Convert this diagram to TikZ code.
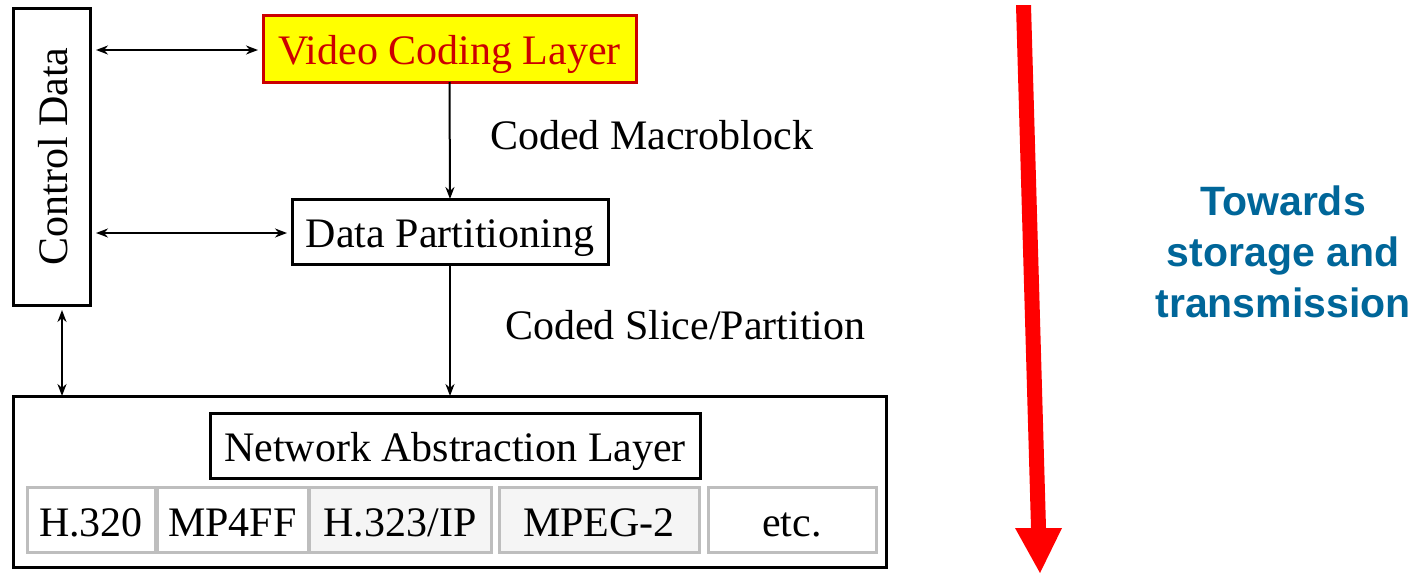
\documentclass[tikz,border=0pt]{standalone}
\usepackage{fontspec}
\setmainfont{Liberation Serif}
\newfontfamily\arialfont{Liberation Sans}
\usetikzlibrary{arrows.meta}
\definecolor{vclred}{RGB}{204,0,0}
\definecolor{vclyellow}{RGB}{255,255,0}
\definecolor{boxgray}{RGB}{190,190,190}
\definecolor{fillgray}{RGB}{245,245,245}
\definecolor{towardsblue}{RGB}{0,102,153}
\definecolor{bigred}{RGB}{255,0,0}
\begin{document}
\begin{tikzpicture}[x=1pt,y=-1pt,
  every node/.style={inner sep=0pt, outer sep=0pt},
  txt/.style={font=\fontsize{42}{50}\selectfont},
  boxtxt/.style={txt, text height=32pt, text depth=0pt},
  blackbox/.style={draw=black, line width=3pt, fill=white, boxtxt},
  graybox/.style={draw=boxgray, line width=3pt, fill=white, boxtxt, minimum height=65pt},
  conn/.style={line width=2pt, -{Stealth[length=12pt,width=9pt]}},
  biconn/.style={line width=2pt, {Stealth[length=12pt,width=9pt]}-{Stealth[length=12pt,width=9pt]}}
]
\useasboundingbox (0,0) rectangle (1427,573);

% Control Data
\node[blackbox, rotate=90, minimum width=297pt, minimum height=77pt] (ctrl) at (51.5,156.5) {Control Data};

% Video Coding Layer
\node[draw=vclred, fill=vclyellow, text=vclred, line width=3pt, boxtxt, minimum width=373pt, minimum height=67pt] (vcl) at (449.5,48.5) {Video Coding Layer};

% Data Partitioning
\node[blackbox, minimum width=316pt, minimum height=65pt] (dp) at (450,231.5) {Data Partitioning};

% NAL outer
\node[draw=black, line width=3pt, minimum width=873pt, minimum height=171pt] (nal) at (449.5,481.5) {};
\node[blackbox, minimum width=490pt, minimum height=65pt] (nalin) at (455,445.5) {Network Abstraction Layer};

% bottom row
\node[graybox, minimum width=128pt] (h320) at (91,520) {H.320};
\node[graybox, minimum width=151pt] (mp4) at (232.5,520) {MP4FF};
\node[graybox, fill=fillgray, minimum width=182pt] (h323) at (400,520) {H.323/IP};
\node[graybox, fill=fillgray, minimum width=200pt] (mpeg) at (599,520) {MPEG-2};
\node[graybox, minimum width=168pt] (etc) at (792,520) {etc.};

% labels
\node[txt, anchor=west] (lmb) at (490,135) {Coded Macroblock};
\node[txt, anchor=west] (lsp) at (505,325) {Coded Slice/Partition};

% connectors
\coordinate (c1) at (96,50);
\coordinate (c2) at (96,233);
\coordinate (c3) at (62,310);
\draw[biconn] (c1) -- ([xshift=-5pt]vcl.west |- c1);
\draw[biconn] (c2) -- ([xshift=-5pt]dp.west |- c2);
\draw[biconn] (c3) -- (c3 |- nal.north);
\draw[conn] (vcl.south) -- (dp.north);
\draw[conn] (dp.south) -- (dp.south |- nal.north);

% big red arrow
\fill[bigred] (1016,5) -- (1031,5) -- (1046,528) -- (1062,528) -- (1040,573) -- (1015,528) -- (1031,528) -- cycle;

% towards text
\node[font=\arialfont\bfseries\fontsize{41}{51}\selectfont, text=towardsblue, align=center] (tw) at (1283,252) {Towards\\storage and\\transmission};
\end{tikzpicture}
\end{document}
